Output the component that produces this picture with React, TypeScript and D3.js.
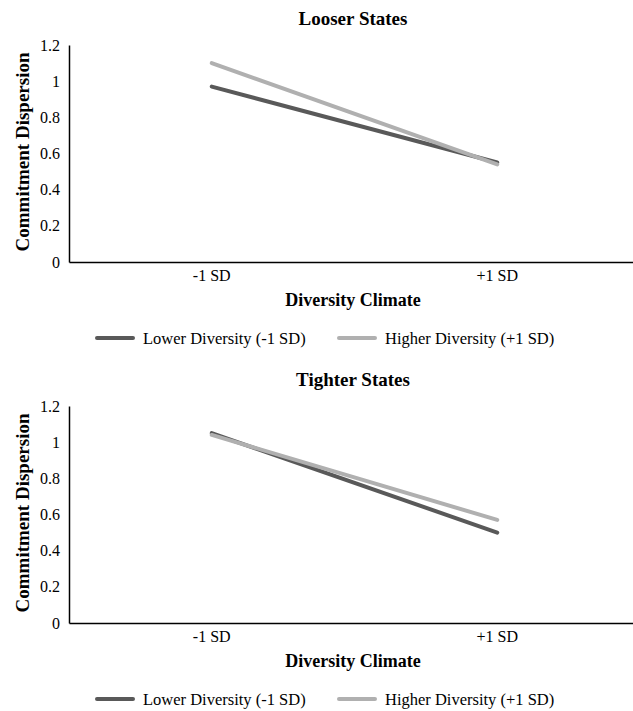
import React, { useEffect, useRef } from 'react';
import * as d3 from 'd3';

const categories = ['-1 SD', '+1 SD'];
const yTicks = [0, 0.2, 0.4, 0.6, 0.8, 1, 1.2];
const seriesNames = ['Lower Diversity (-1 SD)', 'Higher Diversity (+1 SD)'];
const seriesColors = ['#595959', '#b0b0b0'];

const looserLower = [0.97, 0.55];
const looserHigher = [1.1, 0.54];
const tighterLower = [1.05, 0.5];
const tighterHigher = [1.04, 0.57];

const panels = [
  { title: 'Looser States', series: [looserLower, looserHigher] },
  { title: 'Tighter States', series: [tighterLower, tighterHigher] },
];

const W = 633;
const H = 711;
const FONT = "'Times New Roman', 'Liberation Serif', 'DejaVu Serif', serif";

const App = () => {
  const ref = useRef<SVGSVGElement>(null);

  useEffect(() => {
    const svg = d3.select(ref.current).attr('width', W).attr('height', H);
    svg.selectAll('*').remove();

    const x = d3.scaleBand().domain(categories).range([69, 640]);
    const y = d3.scaleLinear().domain([0, 1.2]).range([217, 0]);

    panels.forEach((p, i) => {
      const g = svg.append('g').attr('transform', `translate(0, ${45 + i * 361})`);

      g.append('text')
        .attr('x', 353).attr('y', -20)
        .attr('text-anchor', 'middle')
        .style('font-family', FONT).attr('font-weight', 'bold').attr('font-size', 19)
        .text(p.title);

      // y axis
      const ya = g.append('g').attr('transform', 'translate(69,0)')
        .call(d3.axisLeft(y).tickValues(yTicks).tickSize(0).tickPadding(9).tickFormat(d => String(d)))
        .attr('font-size', 16);
      ya.select('.domain').attr('stroke', '#000').attr('stroke-width', 1.5);
      ya.selectAll('text').attr('fill', '#000').style('font-family', FONT);

      // x axis
      const xa = g.append('g').attr('transform', 'translate(0,217)')
        .call(d3.axisBottom(x).tickSize(0).tickPadding(8))
        .attr('font-size', 16);
      xa.select('.domain').attr('stroke', '#000').attr('stroke-width', 1.5);
      xa.selectAll('text').attr('fill', '#000').style('font-family', FONT);

      g.append('text')
        .attr('transform', `translate(29, 107) rotate(-90)`)
        .attr('text-anchor', 'middle')
        .style('font-family', FONT).attr('font-weight', 'bold').attr('font-size', 19)
        .text('Commitment Dispersion');

      g.append('text')
        .attr('x', 353).attr('y', 261)
        .attr('text-anchor', 'middle')
        .style('font-family', FONT).attr('font-weight', 'bold').attr('font-size', 18)
        .text('Diversity Climate');

      const line = d3.line<number>()
        .x((_, j) => (x(categories[j]) as number) + x.bandwidth() / 2)
        .y(d => y(d));

      [0, 1].forEach(k => {
        g.append('path')
          .datum(p.series[k])
          .attr('d', line)
          .attr('fill', 'none')
          .attr('stroke', seriesColors[k])
          .attr('stroke-width', 4)
          .attr('stroke-linecap', 'round');
      });

      // legend
      const legX = [97, 339];
      seriesNames.forEach((name, k) => {
        const lg = g.append('g').attr('transform', `translate(${legX[k]}, 293)`);
        lg.append('line')
          .attr('x1', 0).attr('x2', 36).attr('y1', 0).attr('y2', 0)
          .attr('stroke', seriesColors[k]).attr('stroke-width', 4).attr('stroke-linecap', 'round');
        lg.append('text')
          .attr('x', 46).attr('y', 6)
          .style('font-family', FONT).attr('font-size', 16.5)
          .text(name);
      });
    });
  }, []);

  return (
    <div style={{ position: 'absolute', left: 0, top: 0, background: '#fff' }}>
      <svg ref={ref} style={{ display: 'block' }}></svg>
    </div>
  );
};

export default App;
